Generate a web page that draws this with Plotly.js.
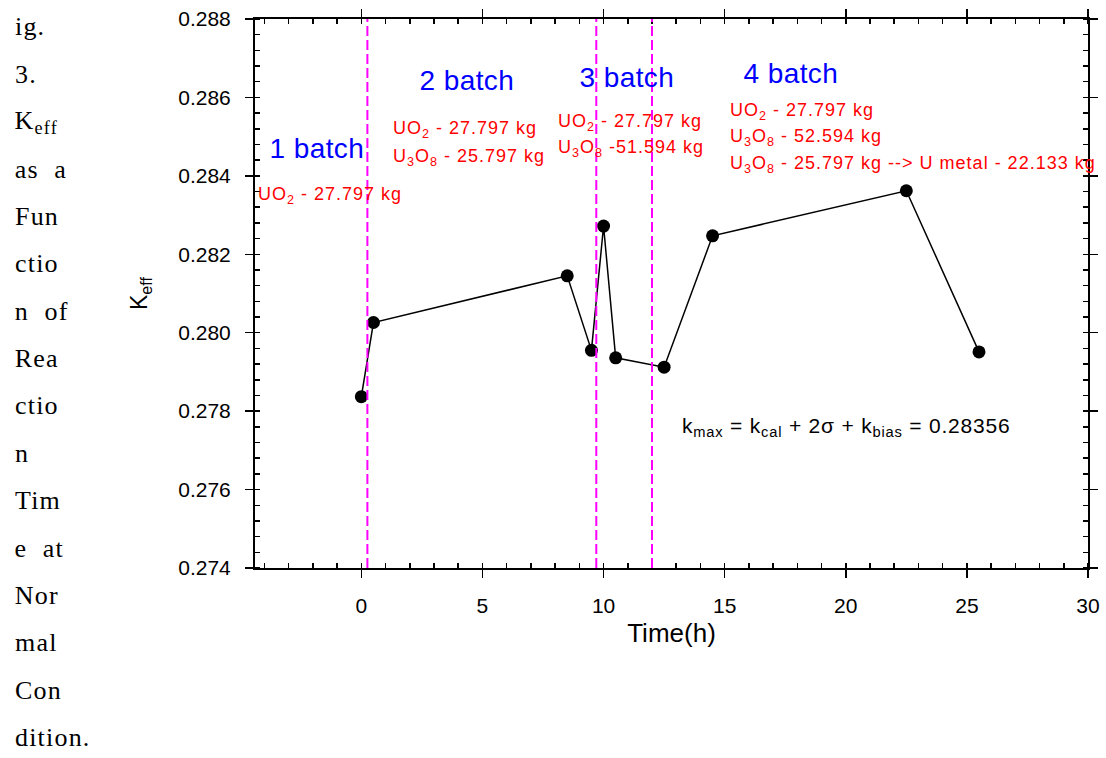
<!DOCTYPE html>
<html>
<head>
<meta charset="utf-8">
<script src="https://cdn.plot.ly/plotly-3.0.1.min.js"></script>
<style>html,body{margin:0;padding:0;background:#fff;}#chart{width:1106px;height:758px;}</style>
</head>
<body>
<div id="chart"></div>
<script>
// ---- data ----
const timeH = [0, 0.5, 8.5, 9.5, 10, 10.5, 12.5, 14.5, 22.5, 25.5];
const keff  = [0.27837, 0.28026, 0.28145, 0.27955, 0.28272, 0.27936, 0.27912, 0.28247, 0.28362, 0.27951];
const batchBoundaries = [0.25, 9.7, 12];
const batchLabels = ['1 batch', '2 batch', '3 batch', '4 batch'];
const batchLabelX = [-1.83, 4.36, 10.97, 17.74];
const batchLabelY = [0.28471, 0.28642, 0.28652, 0.28662];
const loadTexts = [
  ['UO<sub>2</sub> - 27.797 kg'],
  ['UO<sub>2</sub> - 27.797 kg', 'U<sub>3</sub>O<sub>8</sub> - 25.797 kg'],
  ['UO<sub>2</sub> - 27.797 kg', 'U<sub>3</sub>O<sub>8</sub> -51.594 kg'],
  ['UO<sub>2</sub> - 27.797 kg', 'U<sub>3</sub>O<sub>8</sub> - 52.594 kg', 'U<sub>3</sub>O<sub>8</sub> - 25.797 kg --> U metal - 22.133 kg']
];
const loadTextX = [-4.34, 1.23, 8.04, 15.13];
const loadTextY = [[0.28351], [0.28517, 0.28448], [0.28537, 0.28469], [0.28563, 0.28499, 0.28430]];
const kmaxText = 'k<sub>max</sub> = k<sub>cal</sub> + 2σ + k<sub>bias</sub> = 0.28356';
const captionLines = ['ig.', '3.', 'K<sub>eff</sub>', 'as  a', 'Fun', 'ctio', 'n  of', 'Rea', 'ctio', 'n', 'Tim', 'e  at', 'Nor', 'mal', 'Con', 'dition.'];

// ---- build ----
const annotations = [];
const spacing = [];
batchLabels.forEach((t, i) => {
  annotations.push({x: batchLabelX[i], y: batchLabelY[i], xref: 'x', yref: 'y', text: t, showarrow: false,
    xanchor: 'center', yanchor: 'middle', font: {family: 'Liberation Sans, Arial', size: 28, color: '#0000ff'}});
  spacing.push(0.4);
});
loadTexts.forEach((lines, i) => {
  lines.forEach((t, j) => {
    annotations.push({x: loadTextX[i], y: loadTextY[i][j], xref: 'x', yref: 'y', text: t, showarrow: false,
      xanchor: 'left', yanchor: 'middle', font: {family: 'Liberation Sans, Arial', size: 18, color: '#ff0000'}});
    spacing.push(1);
  });
});
annotations.push({x: 13.15, y: 0.2776, xref: 'x', yref: 'y', text: kmaxText, showarrow: false,
  xanchor: 'left', yanchor: 'middle', font: {family: 'Liberation Sans, Arial', size: 21, color: '#000'}});
spacing.push(0.8);
captionLines.forEach((t, i) => {
  const py = 27 + i * 47.4;
  annotations.push({x: -0.2905, y: (568.3 - py) / 549.3, xref: 'paper', yref: 'paper', text: t, showarrow: false,
    xanchor: 'left', yanchor: 'middle', font: {family: 'Liberation Serif, Times New Roman', size: 26, color: '#000'}});
  spacing.push(1.2);
});

const shapes = batchBoundaries.map(b => ({type: 'line', xref: 'x', yref: 'paper', x0: b, x1: b, y0: 0, y1: 1,
  line: {color: '#ff00ff', width: 2, dash: '10px,4px'}}));

const trace = {x: timeH, y: keff, type: 'scatter', mode: 'lines+markers',
  line: {color: '#000', width: 1.5}, marker: {color: '#000', size: 13}, cliponaxis: false};

const axisFont = {family: 'Liberation Sans, Arial', size: 21, color: '#000'};
const layout = {
  width: 1106, height: 758,
  margin: {l: 255, r: 18, t: 19, b: 190},
  paper_bgcolor: '#fff', plot_bgcolor: '#fff',
  showlegend: false,
  xaxis: {range: [-4.39, 30], tick0: 0, dtick: 5, ticks: 'outside', ticklen: 8, tickwidth: 1.5, tickcolor: '#000',
    showline: true, linecolor: '#000', linewidth: 2, mirror: 'ticks', showgrid: false, zeroline: false,
    tickfont: axisFont, ticklabelstandoff: 10,
    minor: {dtick: 1, ticks: 'inside', ticklen: 5, tickwidth: 1.5, tickcolor: '#000', showgrid: false},
    title: {text: 'Time(h)', font: {family: 'Liberation Sans, Arial', size: 26, color: '#000'}, standoff: 8}, automargin: false},
  yaxis: {range: [0.274, 0.288], tick0: 0.274, dtick: 0.002, tickformat: '.3f', ticks: 'outside', ticklen: 8, tickwidth: 1.5, tickcolor: '#000',
    showline: true, linecolor: '#000', linewidth: 2, mirror: 'ticks', showgrid: false, zeroline: false,
    tickfont: axisFont, ticklabelstandoff: 10,
    minor: {dtick: 0.0004, ticks: 'inside', ticklen: 5, tickwidth: 1.5, tickcolor: '#000', showgrid: false},
    title: {text: 'K<sub>eff</sub>', font: {family: 'Liberation Sans, Arial', size: 23, color: '#000'}, standoff: 24}, automargin: false},
  annotations: annotations,
  shapes: shapes
};
Plotly.newPlot('chart', [trace], layout, {displayModeBar: false, staticPlot: true}).then(gd => {
  gd.querySelectorAll('g.annotation').forEach(g => {
    const idx = +g.getAttribute('data-index');
    const txt = g.querySelector('text.annotation-text');
    if (!txt || !spacing[idx]) return;
    const w0 = txt.getBBox().width;
    txt.style.letterSpacing = spacing[idx] + 'px';
    const w1 = txt.getBBox().width;
    if (annotations[idx].xanchor === 'left') {
      txt.setAttribute('transform', 'translate(' + ((w1 - w0) / 2) + ',0)');
    }
  });
});
</script>
</body>
</html>
